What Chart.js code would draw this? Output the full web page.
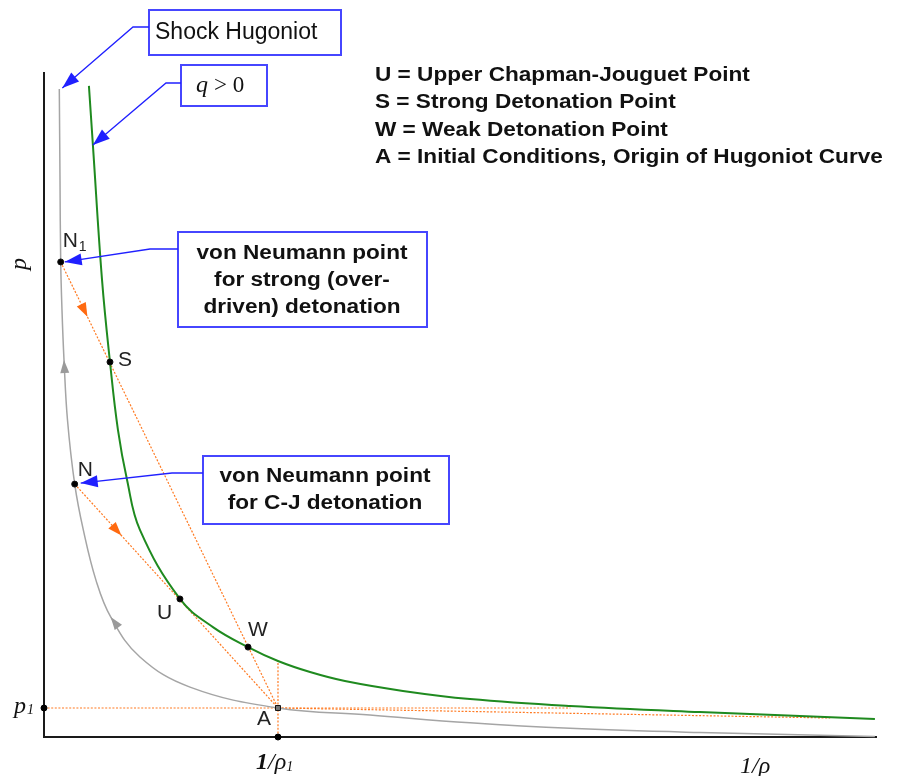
<!DOCTYPE html>
<html>
<head>
<meta charset="utf-8">
<script src="https://cdn.jsdelivr.net/npm/chart.js@4.4.1/dist/chart.umd.min.js"></script>
<style>
    html, body { margin: 0; padding: 0; background: #fff; }
    #wrap { width: 898px; height: 776px; position: relative; }
</style>
</head>
<body>
<div id="wrap"><canvas id="hugoniot"></canvas></div>
<script>
// specific volume (1/rho) and pressure, scaled so that the initial state A sits at (1, 1)
const shockV = [0.0654, 0.0684, 0.0714, 0.0769, 0.0855, 0.1004, 0.1312, 0.168, 0.222, 0.285, 0.410, 0.624, 1.0, 1.393, 1.821, 2.248, 2.803, 3.551];
const shockP = [22.34, 19.21, 16.38, 14.72, 13.00, 10.93, 8.72, 7.14, 5.41, 4.14, 2.76, 1.72, 1.0, 0.76, 0.49, 0.30, 0.155, 0.017];
const detV = [0.192, 0.209, 0.248, 0.282, 0.316, 0.355, 0.410, 0.581, 0.722, 0.872, 1.0, 1.137, 1.286, 1.534, 1.821, 2.248, 2.803, 3.551];
const detP = [22.45, 20.41, 15.76, 12.93, 10.59, 8.86, 7.14, 4.76, 3.79, 3.10, 2.62, 2.24, 1.93, 1.59, 1.31, 1.07, 0.86, 0.62];

const pointNames = ['N1', 'S', 'N', 'U', 'W', 'A'];
const pointV = [0.0714, 0.282, 0.1312, 0.581, 0.872, 1.0];
const pointP = [16.38, 12.93, 8.72, 4.76, 3.10, 1.0];

// end of the low-pressure ray from A and the reach of the p = p1 line
const tailV = [1.0, 3.36];
const tailP = [1.0, 0.655];
const isobarV = [0, 2.25];

// flow arrows: indexes on the shock curve, fractions along the two rays
const shockArrowIdx = [4, 9];
const rayArrowT = [0.123, 0.23];

const axisMax = { v: 3.56, p: 22.93 };

const legendLines = [
    'U = Upper Chapman-Jouguet Point',
    'S = Strong Detonation Point',
    'W = Weak Detonation Point',
    'A = Initial Conditions, Origin of Hugoniot Curve'
];

const colors = {
    shock: '#a5a5a5',
    det: '#1f8a1f',
    ray: '#ff7a22',
    rayArrow: '#ff6a10',
    blue: '#2020ff',
    box: '#4646ff',
    ink: '#1a1a1a'
};

const xy = (vs, ps) => vs.map((v, i) => ({ x: v, y: ps[i] }));
const pt = (name) => {
    const i = pointNames.indexOf(name);
    return { x: pointV[i], y: pointP[i] };
};

function stretchText(ctx, text, x, y, font, sx, align) {
    ctx.save();
    ctx.font = font;
    ctx.textAlign = align;
    ctx.textBaseline = 'middle';
    ctx.translate(x, y);
    ctx.scale(sx, 1);
    ctx.fillText(text, 0, 0);
    ctx.restore();
}

function arrowHead(ctx, tip, from, len, half, color) {
    const dx = tip[0] - from[0];
    const dy = tip[1] - from[1];
    const d = Math.hypot(dx, dy) || 1;
    const ux = dx / d, uy = dy / d;
    const bx = tip[0] - ux * len, by = tip[1] - uy * len;
    ctx.save();
    ctx.fillStyle = color;
    ctx.beginPath();
    ctx.moveTo(tip[0], tip[1]);
    ctx.lineTo(bx - uy * half, by + ux * half);
    ctx.lineTo(bx + uy * half, by - ux * half);
    ctx.closePath();
    ctx.fill();
    ctx.restore();
}

function callout(ctx, box, lines, font, sx, elbow, tip) {
    const [bx, by, bw, bh] = box;
    ctx.save();
    ctx.fillStyle = '#fff';
    ctx.fillRect(bx, by, bw, bh);
    ctx.strokeStyle = colors.box;
    ctx.lineWidth = 2;
    ctx.strokeRect(bx, by, bw, bh);
    ctx.strokeStyle = colors.blue;
    ctx.lineWidth = 1.3;
    ctx.beginPath();
    ctx.moveTo(bx, elbow[1]);
    ctx.lineTo(elbow[0], elbow[1]);
    ctx.lineTo(tip[0], tip[1]);
    ctx.stroke();
    arrowHead(ctx, tip, elbow, 17, 6, colors.blue);
    ctx.fillStyle = '#111';
    lines.forEach((ln) => stretchText(ctx, ln.text, ln.x, ln.y, font, sx, ln.align || 'center'));
    ctx.restore();
}

const diagram = {
    id: 'diagram',
    beforeDatasetsDraw(chart) {
        const { ctx, chartArea: a } = chart;
        ctx.save();
        ctx.strokeStyle = colors.ink;
        ctx.lineWidth = 2;
        ctx.beginPath();
        ctx.moveTo(a.left, a.top);
        ctx.lineTo(a.left, a.bottom);
        ctx.lineTo(a.right, a.bottom);
        ctx.stroke();
        ctx.restore();
    },
    afterDatasetsDraw(chart) {
        const { ctx, scales } = chart;
        const px = (p) => [scales.x.getPixelForValue(p.x), scales.y.getPixelForValue(p.y)];

        // flow arrows on the shock Hugoniot
        shockArrowIdx.forEach((i) => {
            arrowHead(ctx, px({ x: shockV[i], y: shockP[i] }), px({ x: shockV[i + 1], y: shockP[i + 1] }), 13, 4.5, '#9a9a9a');
        });
        // flow arrows on the two Rayleigh rays
        const a = pt('A');
        [pt('N1'), pt('N')].forEach((start, k) => {
            const t = rayArrowT[k];
            const tip = { x: start.x + (a.x - start.x) * t, y: start.y + (a.y - start.y) * t };
            arrowHead(ctx, px(tip), px(start), 14, 5, colors.rayArrow);
        });

        // point labels
        const sans = '21px "Liberation Sans", Arial, sans-serif';
        const offsets = { N1: [2, -21], S: [8, -2], N: [3, -14], U: [-23, 14], W: [0, -17], A: [-21, 11] };
        ctx.save();
        ctx.fillStyle = '#222';
        ctx.textBaseline = 'middle';
        ctx.textAlign = 'left';
        pointNames.forEach((name) => {
            const [x, y] = px(pt(name));
            const [ox, oy] = offsets[name];
            ctx.font = sans;
            ctx.fillText(name[0], x + ox, y + oy);
            if (name.length > 1) {
                const w = ctx.measureText(name[0]).width;
                ctx.font = '14px "Liberation Sans", Arial, sans-serif';
                ctx.fillText(name.slice(1), x + ox + w + 1, y + oy + 6);
            }
        });
        ctx.restore();

        // axis titles and the two state ticks
        const serif = '"Liberation Serif", "Times New Roman", serif';
        ctx.save();
        ctx.fillStyle = '#111';
        ctx.textBaseline = 'alphabetic';
        ctx.save();
        ctx.translate(26, 264);
        ctx.rotate(-Math.PI / 2);
        ctx.font = 'italic 24px ' + serif;
        ctx.textAlign = 'center';
        ctx.fillText('p', 0, 0);
        ctx.restore();

        const p1y = scales.y.getPixelForValue(1);
        ctx.textAlign = 'left';
        ctx.font = 'italic 24px ' + serif;
        ctx.fillText('p', 14, p1y + 5);
        ctx.font = 'italic 14px ' + serif;
        ctx.fillText('1', 27, p1y + 6);

        const v1x = scales.x.getPixelForValue(1);
        const base = 769;
        ctx.font = 'bold italic 24px ' + serif;
        let cx = v1x - 22;
        ctx.fillText('1', cx, base);
        cx += ctx.measureText('1').width;
        ctx.font = 'italic 24px ' + serif;
        ctx.fillText('/\u03c1', cx, base);
        cx += ctx.measureText('/\u03c1').width;
        ctx.font = 'italic 14px ' + serif;
        ctx.fillText('1', cx, base + 2);

        ctx.font = 'italic 24px ' + serif;
        ctx.fillText('1/\u03c1', 740, 773);
        ctx.restore();

        // key
        ctx.save();
        ctx.fillStyle = '#111';
        legendLines.forEach((ln, i) => {
            stretchText(ctx, ln, 375, 75 + i * 27.5, 'bold 20px "Liberation Sans", Arial, sans-serif', 1.13, 'left');
        });
        ctx.restore();

        // callouts
        const bold = 'bold 20px "Liberation Sans", Arial, sans-serif';
        const n1 = px(pt('N1'));
        const n = px(pt('N'));
        const top0 = px({ x: shockV[0], y: shockP[0] });
        const det1 = px({ x: detV[1], y: detP[1] });
        callout(ctx, [149, 10, 192, 45], [{ text: 'Shock Hugoniot', x: 155, y: 33, align: 'left' }],
            '23px "Liberation Sans", Arial, sans-serif', 1, [133, 27], [top0[0] + 3, top0[1] - 1]);
        callout(ctx, [181, 65, 86, 41], [], bold, 1, [166, 83], [det1[0], det1[1]]);
        ctx.save();
        ctx.fillStyle = '#111';
        ctx.textBaseline = 'alphabetic';
        ctx.font = 'italic 24px ' + serif;
        ctx.fillText('q', 196, 92);
        ctx.font = '23px ' + serif;
        ctx.fillText('> 0', 214, 92);
        ctx.restore();
        callout(ctx, [178, 232, 249, 95], [
            { text: 'von Neumann point', x: 302, y: 253 },
            { text: 'for strong (over-', x: 302, y: 280 },
            { text: 'driven) detonation', x: 302, y: 307 }
        ], bold, 1.13, [150, 249], [n1[0] + 4, n1[1]]);
        callout(ctx, [203, 456, 246, 68], [
            { text: 'von Neumann point', x: 325, y: 476 },
            { text: 'for C-J detonation', x: 325, y: 503 }
        ], bold, 1.13, [172, 473], [n[0] + 6, n[1] - 1]);
    }
};

const rayStyle = {
    showLine: true,
    borderColor: colors.ray,
    borderWidth: 1.2,
    borderDash: [2, 1.6],
    pointRadius: 0,
    clip: false,
    order: 4
};

const aPt = pt('A');
new Chart(document.getElementById('hugoniot'), {
    type: 'scatter',
    data: {
        datasets: [
            {
                label: 'states',
                data: pointNames.map(pt),
                pointRadius: pointNames.map((n) => (n === 'A' ? 3.5 : 3)),
                pointStyle: pointNames.map((n) => (n === 'A' ? 'rect' : 'circle')),
                backgroundColor: pointNames.map((n) => (n === 'A' ? '#777' : '#000')),
                borderColor: '#111',
                borderWidth: 1,
                clip: false,
                order: 0
            },
            {
                label: 'axis states',
                data: [{ x: 0, y: aPt.y }, { x: aPt.x, y: 0 }],
                pointRadius: 3,
                backgroundColor: '#000',
                borderColor: '#000',
                clip: false,
                order: 0
            },
            {
                label: 'q > 0',
                data: xy(detV, detP),
                showLine: true,
                borderColor: colors.det,
                borderWidth: 2,
                pointRadius: 0,
                tension: 0.4,
                clip: false,
                order: 2
            },
            {
                label: 'Shock Hugoniot',
                data: xy(shockV, shockP),
                showLine: true,
                borderColor: colors.shock,
                borderWidth: 1.5,
                pointRadius: 0,
                tension: 0.4,
                clip: false,
                order: 3
            },
            Object.assign({ label: 'strong ray', data: [pt('N1'), aPt] }, rayStyle),
            Object.assign({ label: 'C-J ray', data: [pt('N'), aPt] }, rayStyle),
            Object.assign({ label: 'p1', data: [{ x: isobarV[0], y: aPt.y }, { x: isobarV[1], y: aPt.y }] }, rayStyle),
            Object.assign({ label: 'v1', data: [{ x: aPt.x, y: 0 }, { x: aPt.x, y: detP[detV.indexOf(aPt.x)] }] }, rayStyle),
            Object.assign({ label: 'low ray', data: xy(tailV, tailP) }, rayStyle)
        ]
    },
    options: {
        responsive: true,
        maintainAspectRatio: false,
        animation: false,
        layout: { padding: { left: 44, right: 21, top: 72, bottom: 39 } },
        scales: {
            x: { type: 'linear', display: false, min: 0, max: axisMax.v },
            y: { type: 'linear', display: false, min: 0, max: axisMax.p }
        },
        plugins: {
            legend: { display: false },
            tooltip: { enabled: false }
        }
    },
    plugins: [diagram]
});
</script>
</body>
</html>
